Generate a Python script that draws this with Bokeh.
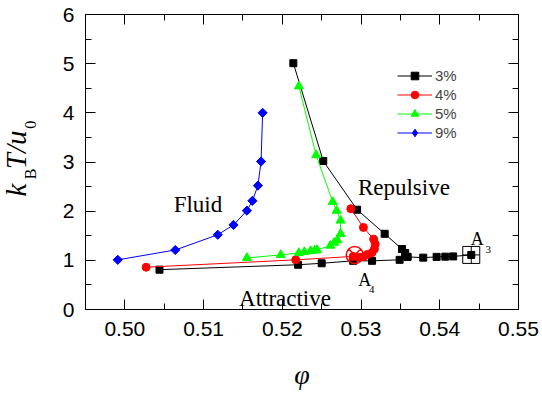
import math
from bokeh.plotting import figure
from bokeh.models import (Range1d, LinearAxis, SingleIntervalTicker, NumeralTickFormatter,
                          CustomJSTickFormatter, Legend, LegendItem, Label, Title)
from bokeh.embed import file_html
from bokeh.resources import INLINE

# ---- data ----
phi3_upper = [0.5214, 0.5252, 0.5295, 0.5330, 0.5352, 0.5356, 0.5359, 0.5379, 0.5396, 0.5407, 0.5417, 0.5440]
T3_upper = [5.01, 3.02, 2.03, 1.54, 1.23, 1.15, 1.07, 1.055, 1.07, 1.075, 1.08, 1.11]
phi3_lower = [0.5044, 0.5220, 0.5250, 0.5290, 0.5314, 0.5349, 0.5359]
T3_lower = [0.81, 0.91, 0.94, 0.99, 0.99, 1.01, 1.07]

phi4 = [0.5027, 0.5217, 0.5290, 0.5297, 0.5303, 0.5308, 0.5314, 0.5317, 0.5318, 0.5316, 0.5303, 0.5287]
T4 = [0.86, 1.01, 1.08, 1.06, 1.075, 1.12, 1.16, 1.23, 1.33, 1.43, 1.67, 2.05]

phi5 = [0.5155, 0.5198, 0.5221, 0.5228, 0.5236, 0.5241, 0.5244, 0.5261, 0.5266, 0.5270,
        0.5274, 0.5274, 0.5269, 0.5264, 0.5243, 0.5221]
T5 = [1.05, 1.11, 1.15, 1.17, 1.19, 1.20, 1.21, 1.30, 1.36, 1.41,
      1.54, 1.81, 2.01, 2.19, 3.14, 4.54]

phi9 = [0.4991, 0.5064, 0.5118, 0.5138, 0.5155, 0.5162, 0.5169, 0.5173, 0.5175]
T9 = [1.01, 1.21, 1.52, 1.72, 2.01, 2.21, 2.52, 3.01, 4.00]

A3 = (0.5440, 1.11)
A4 = (0.5292, 1.11)

series_labels = ["3%", "4%", "5%", "9%"]
x_ticks_interval = 0.01
y_ticks_interval = 1

SERIF = "Liberation Serif"
SANS = "Liberation Sans"
NB = "\u00a0"

p = figure(width=542, height=397, output_backend="svg", toolbar_location=None,
           x_range=Range1d(0.495, 0.55), y_range=Range1d(0, 6),
           min_border_left=85, min_border_right=24, min_border_top=14, min_border_bottom=88)
p.grid.visible = False
p.outline_line_color = None
p.background_fill_color = "white"
p.border_fill_color = "white"

xb = p.below[0]
yl = p.left[0]
xb.ticker = SingleIntervalTicker(interval=x_ticks_interval, num_minor_ticks=2)
yl.ticker = SingleIntervalTicker(interval=y_ticks_interval, num_minor_ticks=2)
xb.formatter = NumeralTickFormatter(format="0.00")
yl.formatter = NumeralTickFormatter(format="0")

blank = CustomJSTickFormatter(code="return ''")
top = LinearAxis(ticker=SingleIntervalTicker(interval=x_ticks_interval, num_minor_ticks=2),
                 formatter=blank)
right = LinearAxis(ticker=SingleIntervalTicker(interval=y_ticks_interval, num_minor_ticks=2),
                   formatter=blank)
p.add_layout(top, "above")
p.add_layout(right, "right")

for ax in [xb, yl, top, right]:
    ax.major_tick_in = 10
    ax.major_tick_out = 0
    ax.minor_tick_in = 6
    ax.minor_tick_out = 0
    ax.axis_line_color = "black"
    ax.major_tick_line_color = "black"
    ax.minor_tick_line_color = "black"
    ax.major_label_text_font = SANS
    ax.major_label_text_font_size = "21px"
    ax.major_label_text_color = "black"
for ax in [top, right]:
    ax.major_label_standoff = 0
xb.major_label_standoff = 12
yl.major_label_standoff = 11

# x title
xb.axis_label = "φ"
xb.axis_label_text_font = SERIF
xb.axis_label_text_font_style = "italic"
xb.axis_label_text_font_size = "28px"
xb.axis_label_standoff = 20
xb.axis_label_text_color = "black"

# y title: subscripts "B" and "0" as the axis label, main "k T/u" as an outer title
yl.axis_label = NB * 6 + "B" + NB * 10 + "0"
yl.axis_label_text_font = SERIF
yl.axis_label_text_font_style = "normal"
yl.axis_label_text_font_size = "16px"
yl.axis_label_standoff = 21
yl.axis_label_text_color = "black"

p.add_layout(Title(text="k" + NB * 2 + "T/u", align="left", offset=113, vertical_align="bottom",
                   standoff=-26, text_font=SERIF, text_font_style="italic",
                   text_font_size="29px", text_color="black"), "left")

# ---- series ----
r3_line = p.multi_line([phi3_upper, phi3_lower], [T3_upper, T3_lower], line_color="black", line_width=1)
r3_pts = p.scatter(phi3_upper + phi3_lower, T3_upper + T3_lower, marker="square", size=7,
                   fill_color="black", line_color="black")

r4_line = p.line(phi4, T4, line_color="red", line_width=1)
r4_pts = p.scatter(phi4, T4, marker="circle", size=8, fill_color="red", line_color="red")

r5_line = p.line(phi5, T5, line_color="#00ff00", line_width=1)
r5_pts = p.scatter(phi5, T5, marker="triangle", size=9, fill_color="#00ff00", line_color="#00ff00")

r9_line = p.line(phi9, T9, line_color="blue", line_width=1)
r9_pts = p.scatter(phi9, T9, marker="square", angle=math.pi / 4, size=6.5,
                   fill_color="blue", line_color="blue")
r9_leg = p.scatter([0.0], [-100.0], marker="diamond", fill_color="blue", line_color="blue")

p.scatter([A3[0]], [A3[1]], marker="square_cross", size=17, fill_color=None,
          line_color="black", line_width=1)
p.scatter([A4[0]], [A4[1]], marker="circle_x", size=17, fill_color=None,
          line_color="red", line_width=1.5)

legend = Legend(items=[
    LegendItem(label=series_labels[0], renderers=[r3_line, r3_pts]),
    LegendItem(label=series_labels[1], renderers=[r4_line, r4_pts]),
    LegendItem(label=series_labels[2], renderers=[r5_line, r5_pts]),
    LegendItem(label=series_labels[3], renderers=[r9_line, r9_leg]),
], location=(312, 167), glyph_width=35, glyph_height=19, label_height=19, spacing=0,
    padding=0, margin=0, label_standoff=3, border_line_color=None,
    background_fill_alpha=0, label_text_font=SANS, label_text_font_size="15px")
p.add_layout(legend, "center")


def lab(x, y, t, size, style="normal", font=SERIF):
    p.add_layout(Label(x=x, y=y, text=t, text_font=font, text_font_size=size,
                       text_font_style=style, text_align="left", text_baseline="alphabetic",
                       text_color="black"))


lab(0.5062, 2.144, "Fluid", "23px")
lab(0.5296, 2.48, "Repulsive", "23px")
lab(0.5145, 0.217, "Attractive", "23px")
lab(0.54395, 1.434, "A", "18px")
lab(0.5458, 1.217, "3", "11px")
lab(0.52965, 0.602, "A", "18px")
lab(0.5310, 0.406, "4", "11px")

open("out.html", "w").write(file_html(p, INLINE))
